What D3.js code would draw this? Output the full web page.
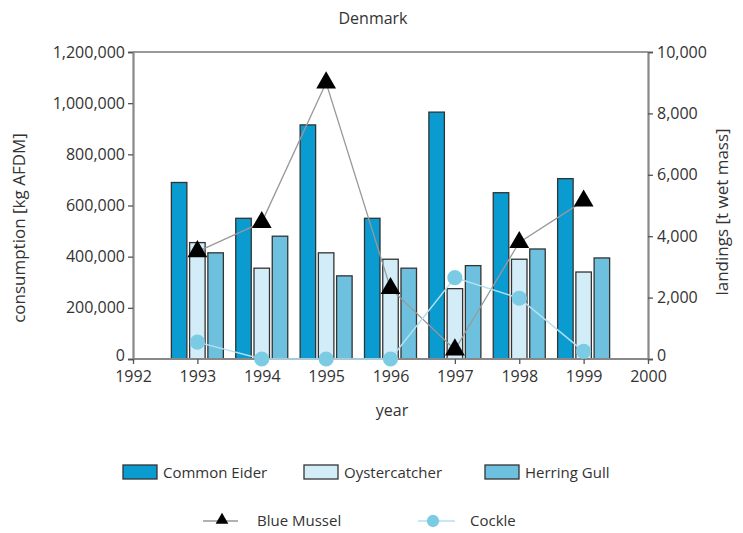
<html>
<head>
<meta charset="utf-8">
<title>Denmark</title>
<script src="https://d3js.org/d3.v7.min.js"></script>
<style>
  body { margin: 0; background: #fff; }
  text { font-family: "Open Sans", "DejaVu Sans", sans-serif; fill: #333; }
</style>
</head>
<body>
<div id="chart"></div>
<script>
// données
const years = [1993, 1994, 1995, 1996, 1997, 1998, 1999];
const commonEider = [690000, 550000, 915000, 550000, 965000, 650000, 705000];
const oystercatcher = [455000, 355000, 415000, 390000, 275000, 390000, 340000];
const herringGull = [415000, 480000, 325000, 355000, 365000, 430000, 395000];
const blueMussel = [3500, 4450, 9000, 2300, 300, 3800, 5150];
const cockle = [550, 0, 0, 0, 2650, 1980, 250];
const leftTicks = [0, 200000, 400000, 600000, 800000, 1000000, 1200000];
const rightTicks = [0, 2000, 4000, 6000, 8000, 10000];
const yearTicks = [1992, 1993, 1994, 1995, 1996, 1997, 1998, 1999, 2000];

const barSeries = [
  { key: "Common Eider", values: commonEider, color: "#0a9bd0" },
  { key: "Oystercatcher", values: oystercatcher, color: "#d3edf8" },
  { key: "Herring Gull", values: herringGull, color: "#6ec1de" }
];

const W = 743, H = 533;
const pL = 133, pR = 648, pT = 52, pB = 359;

const svg = d3.select("#chart").append("svg")
  .attr("width", W).attr("height", H);

const x = d3.scaleLinear().domain([1992, 2000]).range([pL, pR]);
const yL = d3.scaleLinear().domain([0, 1200000]).range([pB, pT]);
const yR = d3.scaleLinear().domain([0, 10000]).range([pB, pT]);
const sub = d3.scaleBand().domain(barSeries.map(d => d.key)).range([-26, 26]).paddingInner(0.15);

const fmt = d3.format(",");

// barres
barSeries.forEach(s => {
  svg.append("g").selectAll("rect")
    .data(years.map((yr, i) => ({ yr: yr, v: s.values[i] })))
    .enter().append("rect")
    .attr("x", d => x(d.yr) + sub(s.key))
    .attr("y", d => yL(d.v))
    .attr("width", sub.bandwidth())
    .attr("height", d => pB - yL(d.v))
    .attr("fill", s.color)
    .attr("stroke", "#333")
    .attr("stroke-width", 1.3);
});

// cadre et axes
svg.append("line").attr("x1", pL).attr("x2", pR).attr("y1", pT).attr("y2", pT)
  .attr("stroke", "#999").attr("stroke-width", 2);

const axL = svg.append("g").attr("transform", `translate(${pL},0)`)
  .call(d3.axisLeft(yL).tickValues(leftTicks).tickFormat(fmt).tickSize(5).tickPadding(3));
const axR = svg.append("g").attr("transform", `translate(${pR},0)`)
  .call(d3.axisRight(yR).tickValues(rightTicks).tickFormat(fmt).tickSize(5).tickPadding(4));
const axB = svg.append("g").attr("transform", `translate(0,${pB})`)
  .call(d3.axisBottom(x).tickValues(yearTicks).tickFormat(d3.format("d")).tickSize(5).tickPadding(7));

[axL, axR, axB].forEach(a => {
  a.selectAll(".domain").attr("stroke", "#888").attr("stroke-width", 2.2);
  a.selectAll(".tick line").attr("stroke", "#555").attr("stroke-width", 1.3);
  a.selectAll("text").style("font-size", "16px").attr("fill", "#333");
});
axB.select(".domain").attr("d", `M${pL},0H${pR}`);
// le zéro remonte un peu pour ne pas toucher 1992 / 2000
[axL, axR].forEach(a => a.selectAll(".tick").filter(d => d === 0).select("text").attr("dy", "0.12em"));

// lignes (axe de droite)
const mData = years.map((yr, i) => ({ yr: yr, v: blueMussel[i] }));
const cData = years.map((yr, i) => ({ yr: yr, v: cockle[i] }));
const line = d3.line().x(d => x(d.yr)).y(d => yR(d.v));

svg.append("path").datum(mData).attr("d", line)
  .attr("fill", "none").attr("stroke", "#999").attr("stroke-width", 1.3);
svg.append("path").datum(cData).attr("d", line)
  .attr("fill", "none").attr("stroke", "#b3e0f1").attr("stroke-width", 1.5);

svg.append("g").selectAll("path").data(cData).enter().append("path")
  .attr("d", d3.symbol(d3.symbolCircle, 180))
  .attr("transform", d => `translate(${x(d.yr)},${yR(d.v)})`)
  .attr("fill", "#7ccbe4");
svg.append("g").selectAll("path").data(mData).enter().append("path")
  .attr("d", d3.symbol(d3.symbolTriangle, 170))
  .attr("transform", d => `translate(${x(d.yr)},${yR(d.v)})`)
  .attr("fill", "#000");

// titres
svg.append("text").attr("x", 373).attr("y", 24).attr("text-anchor", "middle")
  .style("font-size", "16px").text("Denmark");
svg.append("text").attr("x", 392).attr("y", 416).attr("text-anchor", "middle")
  .style("font-size", "16px").text("year");
svg.append("text").attr("transform", "translate(25,228) rotate(-90)").attr("text-anchor", "middle")
  .style("font-size", "17px").text("consumption [kg AFDM]");
svg.append("text").attr("transform", "translate(728,212) rotate(-90)").attr("text-anchor", "middle")
  .style("font-size", "17px").text("landings [t wet mass]");

// légende
const legBars = [
  { key: "Common Eider", x: 123 },
  { key: "Oystercatcher", x: 304 },
  { key: "Herring Gull", x: 485 }
];
legBars.forEach((l, i) => {
  svg.append("rect").attr("x", l.x).attr("y", 465).attr("width", 34).attr("height", 14)
    .attr("fill", barSeries[i].color).attr("stroke", "#333").attr("stroke-width", 1.3);
  svg.append("text").attr("x", l.x + 40).attr("y", 478).style("font-size", "15px").text(l.key);
});

svg.append("line").attr("x1", 203).attr("x2", 238).attr("y1", 521).attr("y2", 521)
  .attr("stroke", "#999").attr("stroke-width", 1.3);
svg.append("path").attr("d", d3.symbol(d3.symbolTriangle, 70))
  .attr("transform", "translate(222,520)").attr("fill", "#000");
svg.append("text").attr("x", 257).attr("y", 526).style("font-size", "15px").text("Blue Mussel");

svg.append("line").attr("x1", 418).attr("x2", 455).attr("y1", 521).attr("y2", 521)
  .attr("stroke", "#b3e0f1").attr("stroke-width", 1.5);
svg.append("path").attr("d", d3.symbol(d3.symbolCircle, 120))
  .attr("transform", "translate(433,521)").attr("fill", "#7ccbe4");
svg.append("text").attr("x", 470).attr("y", 526).style("font-size", "15px").text("Cockle");
</script>
</body>
</html>
